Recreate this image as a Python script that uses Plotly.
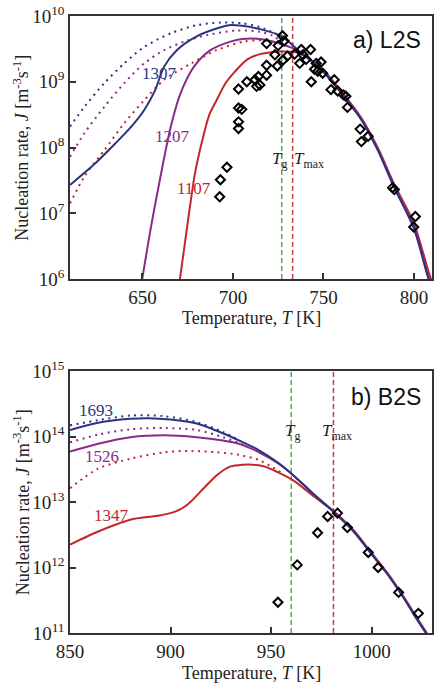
import plotly.graph_objects as go

# ---------------- panel a) L2S ----------------
a_1307_T = [610, 624, 635, 644, 651, 657, 662, 669, 680, 691, 698, 705, 715, 727, 736, 749, 760, 771, 780, 789, 800, 808, 811]
a_1307_logJ = [7.43, 7.76, 8.06, 8.32, 8.57, 8.87, 9.23, 9.48, 9.69, 9.81, 9.86, 9.85, 9.80, 9.69, 9.48, 9.18, 8.82, 8.42, 7.96, 7.40, 6.77, 6.01, 5.8]
a_1307d_T = [610, 618, 629, 640, 651, 666, 680, 693, 705, 715, 727]
a_1307d_logJ = [8.32, 8.62, 8.98, 9.28, 9.53, 9.74, 9.86, 9.90, 9.89, 9.83, 9.69]

a_1207_T = [649, 654.8, 660, 665.7, 671, 678.5, 687.6, 698.6, 705, 715, 727, 736, 749, 760, 771, 780, 789, 800, 808, 811]
a_1207_logJ = [5.85, 6.80, 7.56, 8.32, 8.82, 9.23, 9.48, 9.61, 9.65, 9.65, 9.57, 9.47, 9.19, 8.83, 8.43, 7.98, 7.42, 6.79, 6.03, 5.8]
a_1207d_T = [610, 618, 629, 640, 651, 662, 673, 686, 702, 715, 722, 728]
a_1207d_logJ = [7.86, 8.22, 8.62, 8.98, 9.28, 9.48, 9.61, 9.71, 9.78, 9.76, 9.70, 9.58]

a_1107_T = [670, 675, 679, 683, 687, 691, 696, 701, 708, 715, 721, 728, 736, 749, 760, 771, 780, 789, 800, 808, 812]
a_1107_logJ = [5.85, 6.85, 7.6, 8.1, 8.5, 8.72, 8.98, 9.15, 9.34, 9.42, 9.45, 9.46, 9.44, 9.20, 8.85, 8.45, 8.00, 7.45, 6.85, 6.12, 5.8]
a_1107d_T = [610, 618, 629, 640, 651, 662, 677, 691, 706, 716, 724]
a_1107d_logJ = [7.15, 7.56, 7.96, 8.37, 8.72, 9.03, 9.28, 9.48, 9.61, 9.63, 9.60]

a_exp_T = [727.4, 728.3, 725.0, 718.6, 723.2, 727.7, 730.1, 734.1, 724.5, 718.6, 718.6, 714.1, 712.2, 713.1,
           714.9, 707.7, 703.1, 703.1, 704.9, 703.1, 703.1, 737.8, 742.9, 738.7, 740.5, 736.9, 746.0, 748.7,
           745.1, 746.9, 749.6, 743.3, 756.0, 754.2, 757.9, 761.1, 762.4, 763.3, 770.3, 774.7, 771.0, 788.2,
           789.2, 693.1, 696.7, 692.7, 800.8, 799.9]
a_exp_logJ = [9.70, 9.62, 9.55, 9.58, 9.41, 9.33, 9.39, 9.42, 9.24, 9.25, 9.10, 9.08, 9.03, 8.93,
              8.95, 9.00, 8.89, 8.60, 8.58, 8.39, 8.29, 9.49, 9.49, 9.41, 9.34, 9.28, 9.28, 9.30,
              9.19, 9.16, 9.13, 9.00, 9.03, 8.88, 8.86, 8.80, 8.78, 8.61, 8.28, 8.17, 8.09, 7.39,
              7.36, 7.51, 7.70, 7.25, 6.95, 6.79]
a_Tg, a_Tmax = 727, 733

# ---------------- panel b) B2S ----------------
b_1693_T = [850, 864, 880, 889, 900, 913, 926, 934, 944, 953, 961, 971.5, 981, 991, 999, 1008, 1016, 1022, 1027, 1031]
b_1693_logJ = [14.10, 14.21, 14.27, 14.28, 14.26, 14.20, 14.05, 13.94, 13.79, 13.61, 13.41, 13.11, 12.85, 12.55, 12.24, 11.89, 11.53, 11.23, 11.0, 10.8]
b_1693d_T = [850, 864, 880, 897, 913, 926, 935]
b_1693d_logJ = [14.17, 14.25, 14.32, 14.31, 14.22, 14.07, 13.93]

b_1526_T = [850, 864, 880, 897, 913, 926, 934, 944, 953, 961, 971.5, 981, 991, 999, 1008, 1016, 1022, 1027, 1031]
b_1526_logJ = [13.77, 13.89, 13.99, 14.02, 13.99, 13.94, 13.89, 13.76, 13.60, 13.41, 13.11, 12.86, 12.56, 12.25, 11.90, 11.54, 11.24, 11.0, 10.8]
b_1526d_T = [850, 864, 880, 897, 913, 926, 938]
b_1526d_logJ = [13.91, 14.03, 14.11, 14.13, 14.10, 13.99, 13.85]

b_1347_T = [850, 864, 880, 893.5, 902, 908, 916.5, 923, 929.6, 936, 941, 947, 953, 961, 971.5, 981, 991, 999, 1008, 1016, 1022, 1027, 1031]
b_1347_logJ = [12.35, 12.55, 12.73, 12.79, 12.85, 12.95, 13.21, 13.41, 13.54, 13.57, 13.57, 13.54, 13.46, 13.33, 13.08, 12.86, 12.57, 12.26, 11.91, 11.55, 11.26, 11.02, 10.82]
b_1347d_T = [850, 864, 880, 897, 910, 923, 934, 944, 955]
b_1347d_logJ = [13.21, 13.51, 13.66, 13.76, 13.78, 13.76, 13.72, 13.64, 13.45]

b_exp_T = [953.4, 963.0, 973.1, 978.1, 983.0, 987.9, 998.3, 1003.2, 1013.4, 1023.2]
b_exp_logJ = [11.47, 12.04, 12.53, 12.78, 12.83, 12.61, 12.23, 12.00, 11.62, 11.30]
b_Tg, b_Tmax = 960, 981

# ---------------- styling ----------------
BLUE = "#2c3380"
PURPLE = "#8a2b8a"
RED = "#c0272d"
GREEN_DASH = "#5fa85a"
RED_DASH = "#b8403f"
SERIF = "Liberation Serif, Times New Roman, serif"
SANS = "Liberation Sans, Arial, sans-serif"
AX = "#333333"

def J(vals):
    return [10 ** v for v in vals]

fig = go.Figure()

def curve(T, logJ, color, dotted, xa, ya):
    fig.add_trace(go.Scatter(
        x=T, y=J(logJ), mode="lines", xaxis=xa, yaxis=ya, showlegend=False,
        line=dict(color=color, width=2, shape="spline", smoothing=0.8,
                  dash="2px,4.5px" if dotted else "solid"),
        hoverinfo="skip"))

# panel a
curve(a_1107d_T, a_1107d_logJ, RED, True, "x", "y")
curve(a_1207d_T, a_1207d_logJ, PURPLE, True, "x", "y")
curve(a_1307d_T, a_1307d_logJ, BLUE, True, "x", "y")
curve(a_1107_T, a_1107_logJ, RED, False, "x", "y")
curve(a_1207_T, a_1207_logJ, PURPLE, False, "x", "y")
curve(a_1307_T, a_1307_logJ, BLUE, False, "x", "y")
fig.add_trace(go.Scatter(x=a_exp_T, y=J(a_exp_logJ), mode="markers", xaxis="x", yaxis="y",
                         showlegend=False,
                         marker=dict(symbol="diamond-open", size=7, color="black",
                                     line=dict(width=2, color="black"))))

# panel b
curve(b_1347d_T, b_1347d_logJ, RED, True, "x2", "y2")
curve(b_1526d_T, b_1526d_logJ, PURPLE, True, "x2", "y2")
curve(b_1693d_T, b_1693d_logJ, BLUE, True, "x2", "y2")
curve(b_1347_T, b_1347_logJ, RED, False, "x2", "y2")
curve(b_1526_T, b_1526_logJ, PURPLE, False, "x2", "y2")
curve(b_1693_T, b_1693_logJ, BLUE, False, "x2", "y2")
fig.add_trace(go.Scatter(x=b_exp_T, y=J(b_exp_logJ), mode="markers", xaxis="x2", yaxis="y2",
                         showlegend=False,
                         marker=dict(symbol="diamond-open", size=7, color="black",
                                     line=dict(width=2, color="black"))))

# vertical Tg / Tmax lines
for xv, col, xr, yr in [(a_Tg, GREEN_DASH, "x", "y domain"), (a_Tmax, RED_DASH, "x", "y domain"),
                        (b_Tg, GREEN_DASH, "x2", "y2 domain"), (b_Tmax, RED_DASH, "x2", "y2 domain")]:
    fig.add_shape(type="line", x0=xv, x1=xv, y0=0, y1=1, xref=xr, yref=yr,
                  line=dict(color=col, width=1.5, dash="5px,3px"), layer="below")

def axis_common():
    return dict(showline=True, linecolor=AX, linewidth=1.5, mirror=True,
                ticks="inside", ticklen=6, tickwidth=1.5, tickcolor=AX,
                showgrid=False, zeroline=False,
                tickfont=dict(family=SERIF, size=19, color="#222"))

fig.update_layout(
    width=436, height=685,
    margin=dict(l=70, r=2, t=16, b=52),
    paper_bgcolor="white", plot_bgcolor="white",
    xaxis=dict(domain=[0, 1], range=[610, 810], tickvals=[650, 700, 750, 800], anchor="y",
               **axis_common()),
    yaxis=dict(domain=[0.5737, 1], type="log", range=[6, 10], anchor="x",
               tickvals=[1e6, 1e7, 1e8, 1e9, 1e10],
               ticktext=["10<sup>6</sup>", "10<sup>7</sup>", "10<sup>8</sup>", "10<sup>9</sup>", "10<sup>10</sup>"],
               **axis_common()),
    xaxis2=dict(domain=[0, 1], range=[850, 1030], tickvals=[850, 900, 950, 1000], anchor="y2",
                **axis_common()),
    yaxis2=dict(domain=[0, 0.4246], type="log", range=[11, 15], anchor="x2",
                tickvals=[1e11, 1e12, 1e13, 1e14, 1e15],
                ticktext=["10<sup>11</sup>", "10<sup>12</sup>", "10<sup>13</sup>", "10<sup>14</sup>", "10<sup>15</sup>"],
                **axis_common()),
)

ann = []
def txt(text, x, y, xref, yref, size=17, color="#222", family=SERIF, **kw):
    ann.append(dict(text=text, x=x, y=y, xref=xref, yref=yref, showarrow=False,
                    xanchor="center", yanchor="middle",
                    font=dict(family=family, size=size, color=color), **kw))

# curve labels (data coords; log axes take log10 values)
txt("1307", 659.3, 9.13, "x", "y", color=BLUE)
txt("1207", 666.8, 8.16, "x", "y", color=PURPLE)
txt("1107", 678.5, 7.38, "x", "y", color=RED)
txt("1693", 862.7, 14.39, "x2", "y2", color=BLUE)
txt("1526", 865.7, 13.70, "x2", "y2", color=PURPLE)
txt("1347", 870.5, 12.79, "x2", "y2", color=RED)

# Tg / Tmax labels
txt("<i>T</i><sub>g</sub>", 725.6, 7.81, "x", "y", size=17)
txt("<i>T</i><sub>max</sub>", 742.0, 7.81, "x", "y", size=17)
txt("<i>T</i><sub>g</sub>", 960.8, 14.07, "x2", "y2", size=17)
txt("<i>T</i><sub>max</sub>", 983.0, 14.07, "x2", "y2", size=17)

# panel titles
txt("a) L2S", 0.876, 0.909, "x domain", "y domain", size=23, family=SANS, color="#111")
txt("b) B2S", 0.872, 0.90, "x2 domain", "y2 domain", size=23, family=SANS, color="#111")

# axis titles
ytitle = "Nucleation rate, <i>J</i> [m<sup>-3</sup>s<sup>-1</sup>]"
xtitle = "Temperature, <i>T</i> [K]"
txt(ytitle, -0.135, 0.5737 + 0.4263 / 2, "paper", "paper", size=18, textangle=-90)
txt(ytitle, -0.135, 0.4246 / 2, "paper", "paper", size=18, textangle=-90)
txt(xtitle, 0.5, 0.5105, "paper", "paper", size=18)
txt(xtitle, 0.5, -0.0648, "paper", "paper", size=18)

fig.update_layout(annotations=ann)
fig.write_html("out.html", config={"displayModeBar": False},
               post_script="document.body.style.margin='0';document.body.style.overflow='hidden';")
